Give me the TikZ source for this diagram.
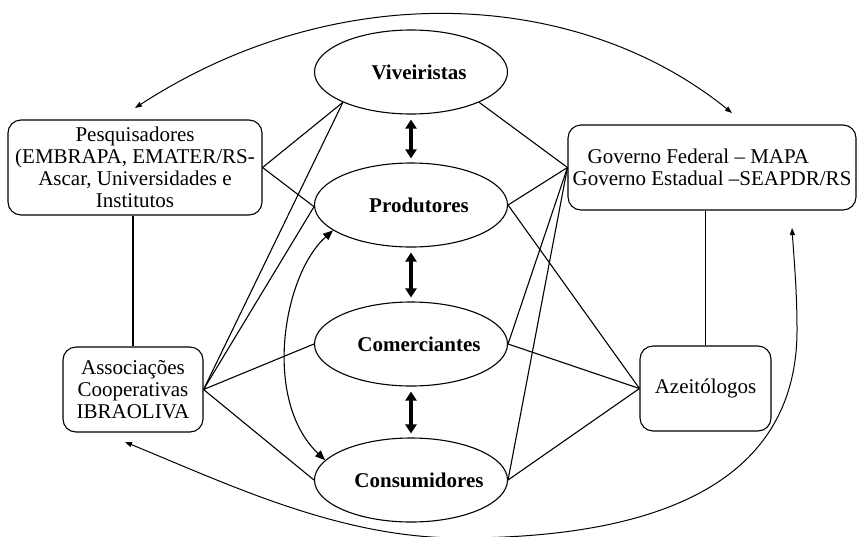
\documentclass[tikz,border=0pt]{standalone}
\usepackage{fontspec}
\setmainfont{Liberation Serif}
\usetikzlibrary{shapes.geometric}
\usetikzlibrary{arrows.meta}

\newcommand{\fonte}{\fontsize{21pt}{22pt}\selectfont}
\newcommand{\rotulo}[1]{\makebox[0pt]{\hspace*{16pt}#1}}

\tikzset{
  caixa/.style={draw, rounded corners=13pt, line width=1.1pt, align=center, inner sep=4pt, font=\fonte},
  ator/.style={draw, ellipse, line width=1.1pt, minimum width=193pt, minimum height=84pt, inner sep=0pt, font=\fonte\bfseries},
  ligacao/.style={line width=1.1pt},
  troca/.style={line width=3.5pt, {Triangle[width=11pt,length=9pt]}-{Triangle[width=11pt,length=9pt]}, shorten <=5pt, shorten >=4pt},
  seta/.style={line width=1.1pt, {Triangle[width=8pt,length=10pt]}-{Triangle[width=8pt,length=10pt]}},
  arco/.style={line width=1pt, {Triangle[width=5pt,length=7pt]}-{Triangle[width=5pt,length=7pt]}}
}

\begin{document}
\begin{tikzpicture}[x=1pt,y=1pt,yscale=-1,xscale=1]
\useasboundingbox (0,0) rectangle (858,536);

%Shape: Ellipse
\node[ator] (viv) at (411,72) {\rotulo{Viveiristas}};
\node[ator] (prod) at (411,205) {\rotulo{Produtores}};
\node[ator] (com) at (411,344) {\rotulo{Comerciantes}};
\node[ator] (cons) at (411,480) {\rotulo{Consumidores}};

%Rounded Rect
\node[caixa, minimum width=254pt, minimum height=95pt] (pesq) at (135,167.5) {Pesquisadores\\(EMBRAPA, EMATER/RS-\\Ascar, Universidades e\\Institutos};
\node[caixa, minimum width=140pt, minimum height=85pt] (assoc) at (133,389.5) {Associações\\Cooperativas\\IBRAOLIVA};
\node[caixa, minimum width=288pt, minimum height=85pt, align=left] (gov) at (712,167.5) {\hspace*{15pt}Governo Federal – MAPA\\Governo Estadual –SEAPDR/RS};
\node[caixa, minimum width=131pt, minimum height=85pt] (azeit) at (705.5,388.5) {Azeitólogos};

%Straight Lines
\draw[troca] (viv.south) -- (prod.north);
\draw[troca] (prod.south) -- (com.north);
\draw[troca] (com.south) -- (cons.north);

\draw[ligacao] (pesq.east) -- (viv.204);
\draw[ligacao] (pesq.east) -- (prod.181);
\draw[ligacao] (assoc.north) -- (assoc.north |- pesq.south);
\draw[ligacao] (assoc.east) -- (viv.204);
\draw[ligacao] (assoc.east) -- (prod.181);
\draw[ligacao] (assoc.east) -- (com.west);
\draw[ligacao] (assoc.east) -- (cons.west);

\draw[ligacao] (viv.336) -- (gov.west);
\draw[ligacao] (prod.east) -- (gov.west);
\draw[ligacao] (com.east) -- (gov.west);
\draw[ligacao] (cons.east) -- (gov.west);
\draw[ligacao] (prod.east) -- (azeit.west);
\draw[ligacao] (com.east) -- (azeit.west);
\draw[ligacao] (cons.east) -- (azeit.west);
\draw[ligacao] (azeit.north) -- (azeit.north |- gov.south);

%Curve Lines
\draw[seta] (prod.198) .. controls (283,275) and (262,400) .. (cons.167);

\coordinate (arcoNO) at (135,108);
\coordinate (arcoNE) at (732,113);
\draw[arco] (arcoNO) .. controls (340,-25) and (580,-10) .. (arcoNE);

\coordinate (arcoSO) at (125,442);
\coordinate (arcoSE) at (792,228);
\draw[arco] (arcoSO) .. controls (230,485) and (340,538) .. (460,538) .. controls (680,538) and (797,470) .. (797,330) .. controls (797,290) and (794,260) .. (arcoSE);

\end{tikzpicture}
\end{document}
